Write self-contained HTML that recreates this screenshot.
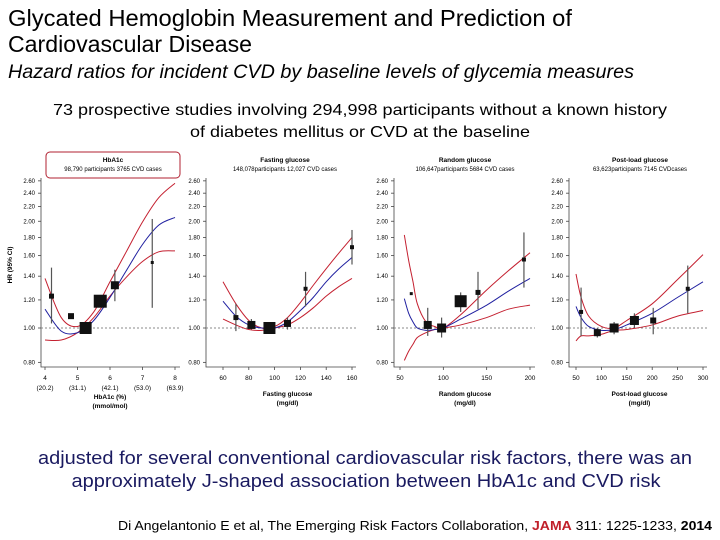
<!DOCTYPE html>
<html><head><meta charset="utf-8"><style>
body{margin:0;background:#fff;}
svg{display:block;}
text{font-family:"Liberation Sans",sans-serif;}
</style></head><body>
<svg id="s" width="720" height="540" viewBox="0 0 720 540" xmlns="http://www.w3.org/2000/svg">
<text x="8" y="26" font-size="23" textLength="564" lengthAdjust="spacingAndGlyphs">Glycated Hemoglobin Measurement and Prediction of</text>
<text x="8" y="52" font-size="23" textLength="244" lengthAdjust="spacingAndGlyphs">Cardiovascular Disease</text>
<text x="8" y="78" font-size="19" font-style="italic" textLength="626" lengthAdjust="spacingAndGlyphs">Hazard ratios for incident CVD by baseline levels of glycemia measures</text>
<text x="360" y="115" font-size="16" text-anchor="middle" textLength="614" lengthAdjust="spacingAndGlyphs">73 prospective studies involving 294,998 participants without a known history</text>
<text x="360" y="137" font-size="16" text-anchor="middle" textLength="340" lengthAdjust="spacingAndGlyphs">of diabetes mellitus or CVD at the baseline</text>
<text x="365" y="464" font-size="18" fill="#1a1a60" text-anchor="middle" textLength="654" lengthAdjust="spacingAndGlyphs">adjusted for several conventional cardiovascular risk factors, there was an</text>
<text x="366" y="487" font-size="18" fill="#1a1a60" text-anchor="middle" textLength="589" lengthAdjust="spacingAndGlyphs">approximately J-shaped association between HbA1c and CVD risk</text>
<text x="118" y="530" font-size="13" textLength="594" lengthAdjust="spacingAndGlyphs">Di Angelantonio E et al, The Emerging Risk Factors Collaboration, <tspan fill="#c0202a" font-weight="bold">JAMA</tspan> 311: 1225-1233, <tspan font-weight="bold">2014</tspan></text>
<rect x="46" y="152" width="134" height="26" rx="4" fill="none" stroke="#b02030" stroke-width="1"/>
<text x="12" y="265" font-size="6.5" font-weight="bold" text-anchor="middle" transform="rotate(-90 12 265)">HR (95% CI)</text>
<g id="charts"></g>
</svg>
<script>
// Shared y ticks
const yTicks=[0.8,1.0,1.2,1.4,1.6,1.8,2.0,2.2,2.4,2.6];
const yTickLabels=["0.80","1.00","1.20","1.40","1.60","1.80","2.00","2.20","2.40","2.60"];
// Panel 1: HbA1c
const p1Xticks=[4,5,6,7,8];
const p1XtickLabels=["4","5","6","7","8"];
const p1XsubLabels=["(20.2)","(31.1)","(42.1)","(53.0)","(63.9)"];
const p1CurveX=[4,4.5,5,5.5,6,6.5,7,7.5,8];
const p1Mid=[1.13,0.98,0.97,1.05,1.22,1.45,1.72,1.95,2.05];
const p1Up=[1.38,1.07,1.01,1.11,1.35,1.64,1.99,2.33,2.56];
const p1Lo=[0.925,0.925,0.97,1.07,1.23,1.39,1.54,1.64,1.65];
const p1PtX=[4.2,4.8,5.25,5.7,6.15,7.3];
const p1PtY=[1.23,1.08,1.00,1.19,1.32,1.53];
const p1PtLo=[1.03,null,null,null,1.19,1.14];
const p1PtHi=[1.48,null,null,null,1.46,2.03];
const p1PtW=[5,6,12,13,8,3];
// Panel 2: Fasting glucose
const p2Xticks=[60,80,100,120,140,160];
const p2XtickLabels=["60","80","100","120","140","160"];
const p2CurveX=[60,70,80,90,100,110,120,130,140,150,160];
const p2Mid=[1.19,1.08,1.02,1.00,1.00,1.04,1.12,1.22,1.35,1.47,1.58];
const p2Up=[1.35,1.17,1.05,1.00,1.01,1.07,1.18,1.32,1.47,1.63,1.80];
const p2Lo=[1.06,1.02,0.99,0.985,1.00,1.02,1.07,1.14,1.23,1.31,1.38];
const p2PtX=[70,82,96,110,124,160];
const p2PtY=[1.07,1.02,1.00,1.03,1.29,1.69];
const p2PtLo=[0.98,0.99,null,0.99,1.15,1.51];
const p2PtHi=[1.17,1.06,null,1.07,1.44,1.89];
const p2PtW=[5,8,12,7,4,4];
// Panel 3: Random glucose
const p3Xticks=[50,100,150,200];
const p3XtickLabels=["50","100","150","200"];
const p3CurveX=[55,60,65,70,80,90,100,120,150,175,200];
const p3Mid=[1.21,1.10,1.04,1.00,0.985,0.99,1.00,1.06,1.16,1.27,1.38];
const p3Up=[1.83,1.55,1.35,1.17,1.04,1.01,1.00,1.09,1.28,1.45,1.63];
const p3Lo=[0.81,0.86,0.90,0.94,0.97,0.99,1.00,1.02,1.07,1.13,1.16];
const p3PtX=[63,82,98,120,140,193];
const p3PtY=[1.25,1.02,1.00,1.19,1.26,1.56];
const p3PtLo=[null,0.95,0.94,1.11,1.13,1.30];
const p3PtHi=[null,1.14,1.07,1.26,1.44,1.86];
const p3PtW=[3,8,9,12,5,4];
// Panel 4: Post-load glucose
const p4Xticks=[50,100,150,200,250,300];
const p4XtickLabels=["50","100","150","200","250","300"];
const p4CurveX=[50,60,75,100,125,150,200,250,300];
const p4Mid=[1.15,1.07,1.01,0.985,0.99,1.02,1.10,1.22,1.35];
const p4Up=[1.42,1.22,1.08,1.01,1.00,1.05,1.17,1.37,1.61];
const p4Lo=[0.92,0.95,0.95,0.96,0.985,0.99,1.02,1.08,1.12];
const p4PtX=[60,92,125,165,202,270];
const p4PtY=[1.11,0.97,1.00,1.05,1.05,1.29];
const p4PtLo=[0.95,0.94,0.96,1.00,0.96,1.10];
const p4PtHi=[1.30,1.00,1.04,1.10,1.14,1.50];
const p4PtW=[4,7,9,9,6,4];

const NS="http://www.w3.org/2000/svg";
const root=document.getElementById('charts');
function mk(tag,attrs,parent){const e=document.createElementNS(NS,tag);for(const k in attrs)e.setAttribute(k,attrs[k]);(parent||root).appendChild(e);return e;}
function yS(v){return 328-154*Math.log(v);}

const panels=[
 {key:'hba1c',axisX:41,x0:4,x1:8,px0:45,px1:175,lineX0:41,lineX1:180,xt:p1Xticks,xl:p1XtickLabels,sub:p1XsubLabels,cx:p1CurveX,mid:p1Mid,up:p1Up,lo:p1Lo,px:p1PtX,py:p1PtY,plo:p1PtLo,phi:p1PtHi,pw:p1PtW,
  t1:"HbA1c",t2:"98,790 participants 3765 CVD cases",tcx:113,xt1:"HbA1c (%)",xt2:"(mmol/mol)"},
 {key:'fasting-glucose',axisX:206,x0:60,x1:160,px0:223,px1:352,lineX0:206,lineX1:356,xt:p2Xticks,xl:p2XtickLabels,cx:p2CurveX,mid:p2Mid,up:p2Up,lo:p2Lo,px:p2PtX,py:p2PtY,plo:p2PtLo,phi:p2PtHi,pw:p2PtW,
  t1:"Fasting glucose",t2:"148,078participants 12,027 CVD cases",tcx:285,xt1:"Fasting glucose",xt2:"(mg/dl)"},
 {key:'random-glucose',axisX:394,x0:50,x1:200,px0:400,px1:530,lineX0:394,lineX1:535,xt:p3Xticks,xl:p3XtickLabels,cx:p3CurveX,mid:p3Mid,up:p3Up,lo:p3Lo,px:p3PtX,py:p3PtY,plo:p3PtLo,phi:p3PtHi,pw:p3PtW,
  t1:"Random glucose",t2:"106,647participants 5684 CVD cases",tcx:465,xt1:"Random glucose",xt2:"(mg/dl)"},
 {key:'post-load-glucose',axisX:569,x0:50,x1:300,px0:576,px1:703,lineX0:569,lineX1:707,xt:p4Xticks,xl:p4XtickLabels,cx:p4CurveX,mid:p4Mid,up:p4Up,lo:p4Lo,px:p4PtX,py:p4PtY,plo:p4PtLo,phi:p4PtHi,pw:p4PtW,
  t1:"Post-load glucose",t2:"63,623participants 7145 CVDcases",tcx:640,xt1:"Post-load glucose",xt2:"(mg/dl)"}
];

panels.forEach(p=>{
  const xS=v=>p.px0+(v-p.x0)*(p.px1-p.px0)/(p.x1-p.x0);
  const g=mk('g',{});
  
  
  const t1=mk('text',{x:p.tcx,y:162,'font-size':6.5,'font-weight':'bold','text-anchor':'middle'},g);t1.textContent=p.t1;
  
  
  const t2=mk('text',{x:p.tcx,y:171,'font-size':6,'text-anchor':'middle'},g);t2.textContent=p.t2;
  
  
  const ax=mk('path',{d:`M${p.axisX} 178V367H${p.lineX1}`,stroke:'#444','stroke-width':0.8,fill:'none'},g);
  
  
  yTicks.forEach((v,i)=>{
    const y=yS(v);
    mk('line',{x1:p.axisX-3,x2:p.axisX,y1:y,y2:y,stroke:'#444','stroke-width':0.8},g);
    const t=mk('text',{x:p.axisX-6,y:y+2,'font-size':6,'text-anchor':'end'},g);t.textContent=yTickLabels[i];
    
    
  });
  p.xt.forEach((v,i)=>{
    const x=xS(v);
    mk('line',{x1:x,x2:x,y1:367,y2:370,stroke:'#444','stroke-width':0.8},g);
    const t=mk('text',{x:x,y:380,'font-size':6.5,'text-anchor':'middle'},g);t.textContent=p.xl[i];
    
    
    if(p.sub){const s=mk('text',{x:x,y:390,'font-size':6.5,'text-anchor':'middle'},g);s.textContent=p.sub[i];
      
      }
  });
  const xa=mk('text',{x:(p.px0+p.px1)/2,y:p.sub?399:396,'font-size':6.5,'font-weight':'bold','text-anchor':'middle'},g);xa.textContent=p.xt1;
  
  
  const xb=mk('text',{x:(p.px0+p.px1)/2,y:p.sub?408:405,'font-size':6.5,'font-weight':'bold','text-anchor':'middle'},g);xb.textContent=p.xt2;
  
  
  const ref=mk('line',{x1:p.axisX,x2:p.lineX1,y1:yS(1),y2:yS(1),stroke:'#888','stroke-width':1,'stroke-dasharray':'2,2'},g);
  
  
  const path=arr=>{let d='';for(let i=0;i<p.cx.length;i++){const X=xS(p.cx[i]),Y=yS(arr[i]);
    if(i===0)d+=`M${X} ${Y}`;else{const Xp=xS(p.cx[i-1]),Yp=yS(arr[i-1]);
      const Xa=i>1?xS(p.cx[i-2]):Xp,Ya=i>1?yS(arr[i-2]):Yp;
      const Xn=i<p.cx.length-1?xS(p.cx[i+1]):X,Yn=i<p.cx.length-1?yS(arr[i+1]):Y;
      d+=` C${Xp+(X-Xa)/6} ${Yp+(Y-Ya)/6} ${X-(Xn-Xp)/6} ${Y-(Yn-Yp)/6} ${X} ${Y}`;}}return d;};
  [['up','#c42030','upper-ci-curve'],['lo','#c42030','lower-ci-curve'],['mid','#2020a0','hazard-ratio-curve']].forEach(c=>{
    const e=mk('path',{d:path(p[c[0]]),stroke:c[1],'stroke-width':1,fill:'none'},g);
    
    
  });
  p.px.forEach((v,i)=>{
    const x=xS(v),y=yS(p.py[i]);
    if(p.plo[i]!=null){const l=mk('line',{x1:x,x2:x,y1:yS(p.phi[i]),y2:yS(p.plo[i]),stroke:'#555','stroke-width':1.2},g);
      
      }
    const w=p.pw[i];
    const r=mk('rect',{x:x-w/2,y:y-w/2,width:w,height:w,fill:'#111'},g);
    
    
  });
});
</script>
</body></html>
